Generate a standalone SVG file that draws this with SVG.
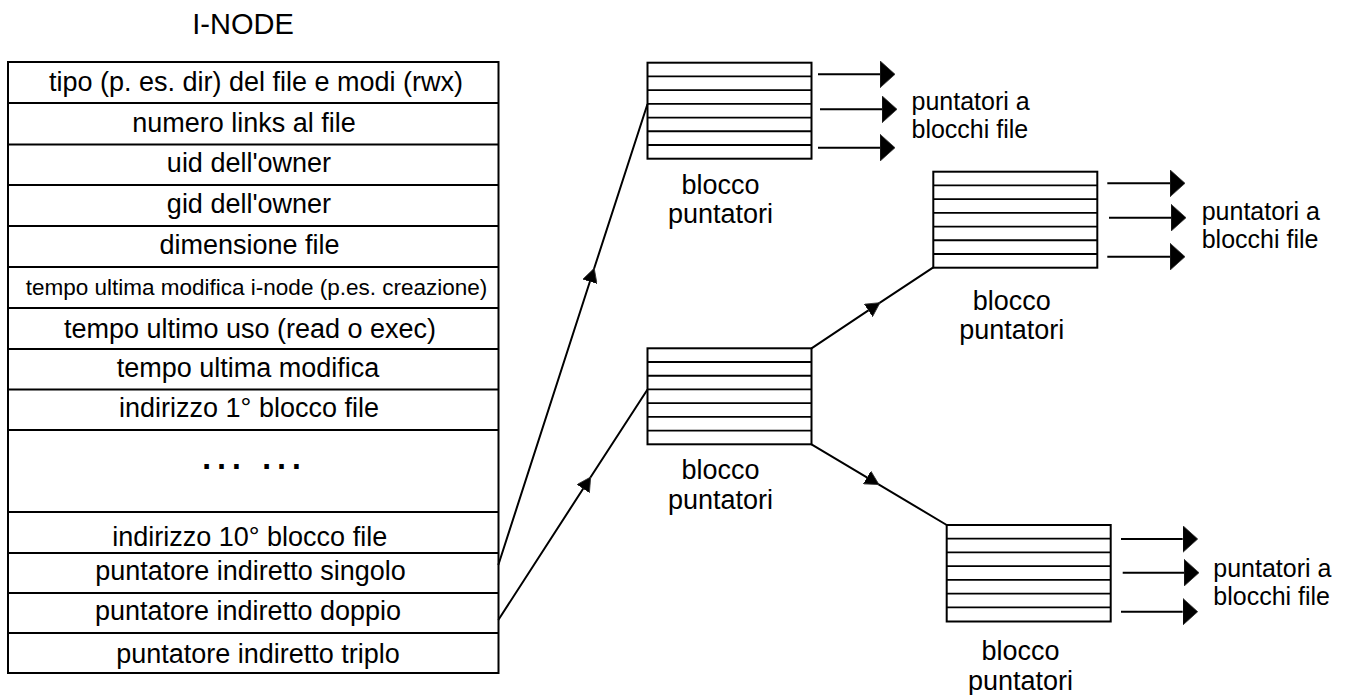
<svg xmlns="http://www.w3.org/2000/svg" width="1353" height="695" viewBox="0 0 1353 695">
<style>
text{font-family:"Liberation Sans",Arial,sans-serif;fill:#000}
.r{font-size:27px;text-anchor:middle}
.s{font-size:22.5px;text-anchor:middle}
.lbl{font-size:27px;text-anchor:middle}
.pl{font-size:25px}
.tbl{fill:#fff;stroke:#000;stroke-width:2}
.ln{stroke:#000;stroke-width:2;fill:none}
.blk{fill:#fff;stroke:#000;stroke-width:2}
.bl{stroke:#000;stroke-width:1.8}
.con{stroke:#000;stroke-width:2;fill:none;marker-mid:url(#sm)}
.arr{stroke:#000;stroke-width:2;marker-end:url(#big)}
</style>
<defs>
<marker id="big" viewBox="0 0 15 27" refX="0" refY="13.5" markerWidth="15" markerHeight="27" markerUnits="userSpaceOnUse" orient="auto">
<path d="M0,0 L15,13.5 L0,27 Z" fill="#000" stroke="#333" stroke-width="0.8"/>
</marker>
<marker id="sm" viewBox="0 0 14 15" refX="14" refY="7.5" markerWidth="14" markerHeight="15" markerUnits="userSpaceOnUse" orient="auto">
<path d="M0,0 L14,7.5 L0,15 Z" fill="#000" stroke="#333" stroke-width="0.8"/>
</marker>
<g id="rows7">
<line class="bl" x1="0" y1="13.71" x2="164" y2="13.71"/>
<line class="bl" x1="0" y1="27.43" x2="164" y2="27.43"/>
<line class="bl" x1="0" y1="41.14" x2="164" y2="41.14"/>
<line class="bl" x1="0" y1="54.86" x2="164" y2="54.86"/>
<line class="bl" x1="0" y1="68.57" x2="164" y2="68.57"/>
<line class="bl" x1="0" y1="82.29" x2="164" y2="82.29"/>
</g>
</defs>
<rect width="1353" height="695" fill="#fff"/>

<g id="inode">
<text x="243" y="33.5" style="font-size:29px;text-anchor:middle">I-NODE</text>
<rect class="tbl" x="8" y="62" width="490.5" height="611"/>
<line class="ln" x1="8" y1="103" x2="498.5" y2="103"/>
<line class="ln" x1="8" y1="144.5" x2="498.5" y2="144.5"/>
<line class="ln" x1="8" y1="185" x2="498.5" y2="185"/>
<line class="ln" x1="8" y1="226" x2="498.5" y2="226"/>
<line class="ln" x1="8" y1="267" x2="498.5" y2="267"/>
<line class="ln" x1="8" y1="308" x2="498.5" y2="308"/>
<line class="ln" x1="8" y1="349" x2="498.5" y2="349"/>
<line class="ln" x1="8" y1="389.5" x2="498.5" y2="389.5"/>
<line class="ln" x1="8" y1="430" x2="498.5" y2="430"/>
<line class="ln" x1="8" y1="512" x2="498.5" y2="512"/>
<line class="ln" x1="8" y1="553" x2="498.5" y2="553"/>
<line class="ln" x1="8" y1="593" x2="498.5" y2="593"/>
<line class="ln" x1="8" y1="633" x2="498.5" y2="633"/>
<text class="r" x="256" y="91">tipo (p. es. dir) del file e modi (rwx)</text>
<text class="r" x="244" y="132">numero links al file</text>
<text class="r" x="249" y="172">uid dell'owner</text>
<text class="r" x="249" y="213">gid dell'owner</text>
<text class="r" x="249.5" y="254">dimensione file</text>
<text class="s" x="256.5" y="295">tempo ultima modifica i-node (p.es. creazione)</text>
<text class="r" x="250" y="338">tempo ultimo uso (read o exec)</text>
<text class="r" x="248" y="377">tempo ultima modifica</text>
<text class="r" x="249" y="417">indirizzo 1° blocco file</text>
<text x="198" y="469" style="font-size:47px">… …</text>
<text class="r" x="249.7" y="546">indirizzo 10° blocco file</text>
<text class="r" x="250.5" y="580">puntatore indiretto singolo</text>
<text class="r" x="248" y="620">puntatore indiretto doppio</text>
<text class="r" x="258" y="663">puntatore indiretto triplo</text>
</g>

<g id="blocco1">
<rect class="blk" x="647.5" y="62.7" width="164" height="96"/>
<use href="#rows7" x="647.5" y="62.7"/>
<text class="lbl" x="720.5" y="194">blocco</text>
<text class="lbl" x="720.5" y="223">puntatori</text>
<line class="arr" x1="818" y1="74.3" x2="880" y2="74.3"/>
<line class="arr" x1="820" y1="109.3" x2="882" y2="109.3"/>
<line class="arr" x1="818" y1="147.7" x2="880" y2="147.7"/>
<text class="pl" x="911.5" y="110">puntatori a</text>
<text class="pl" x="911.5" y="138">blocchi file</text>
</g>

<g id="blocco2">
<rect class="blk" x="933.3" y="171.7" width="164" height="96"/>
<use href="#rows7" x="933.3" y="171.7"/>
<text class="lbl" x="1011.7" y="309.5">blocco</text>
<text class="lbl" x="1011.7" y="338.5">puntatori</text>
<line class="arr" x1="1107.3" y1="183.3" x2="1170" y2="183.3"/>
<line class="arr" x1="1109" y1="217.7" x2="1171" y2="217.7"/>
<line class="arr" x1="1107.3" y1="256.7" x2="1170" y2="256.7"/>
<text class="pl" x="1201.7" y="220">puntatori a</text>
<text class="pl" x="1201.7" y="248">blocchi file</text>
</g>

<g id="blocco3">
<rect class="blk" x="647.5" y="348.3" width="164" height="96"/>
<use href="#rows7" x="647.5" y="348.3"/>
<text class="lbl" x="720.5" y="479">blocco</text>
<text class="lbl" x="720.5" y="508.5">puntatori</text>
</g>

<g id="blocco4">
<rect class="blk" x="946.7" y="525" width="164" height="96.5"/>
<use href="#rows7" x="946.7" y="525"/>
<text class="lbl" x="1020.5" y="660">blocco</text>
<text class="lbl" x="1020.5" y="690">puntatori</text>
<line class="arr" x1="1121" y1="539" x2="1182.7" y2="539"/>
<line class="arr" x1="1122.7" y1="572.7" x2="1184" y2="572.7"/>
<line class="arr" x1="1121" y1="611.7" x2="1182.7" y2="611.7"/>
<text class="pl" x="1213.3" y="577">puntatori a</text>
<text class="pl" x="1213.3" y="605">blocchi file</text>
</g>

<g id="connectors">
<polyline class="con" points="498.3,565 594.2,268.3 647.5,104"/>
<polyline class="con" points="498.3,620 590.7,477 647.5,389.5"/>
<polyline class="con" points="811.5,348.3 880,302.7 933.3,267.3"/>
<polyline class="con" points="811.5,444.3 879,484.6 946.7,525"/>
</g>
</svg>
